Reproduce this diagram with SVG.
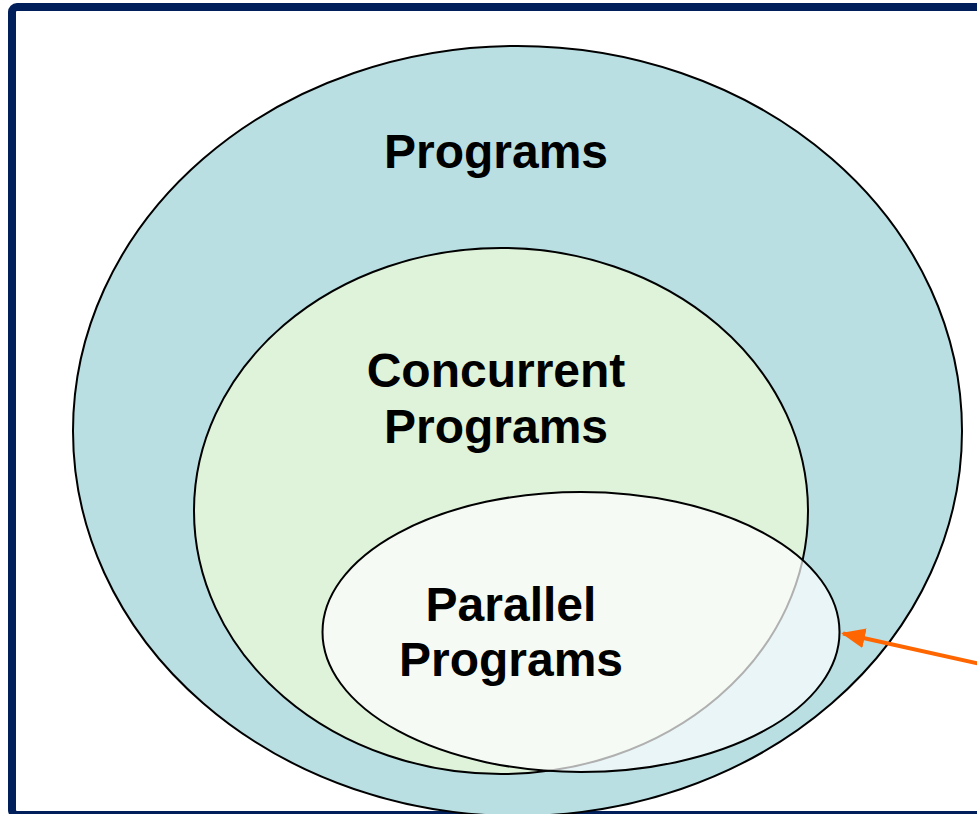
<svg xmlns="http://www.w3.org/2000/svg" width="977" height="814" viewBox="0 0 977 814">
<defs>
<style>
.lbl{font-family:"Liberation Sans",Arial,sans-serif;font-weight:bold;font-size:48px;fill:#000;text-anchor:middle}
.set{stroke:#000;stroke-width:2}
</style>
<marker id="ah" markerWidth="6" markerHeight="5" refX="5.5" refY="2.5" orient="auto" markerUnits="strokeWidth">
<path d="M0,0 L6,2.5 L0,5 Z" fill="#ff6600"/>
</marker>
</defs>
<rect x="0" y="0" width="977" height="814" fill="#ffffff"/>
<rect x="12" y="7" width="990" height="808" rx="5" fill="none" stroke="#001f5b" stroke-width="8"/>
<g id="programs">
<ellipse class="set" cx="517.5" cy="431" rx="444.5" ry="385" fill="#b9dfe3"/>
<text class="lbl" x="496" y="168">Programs</text>
</g>
<g id="concurrent">
<ellipse class="set" cx="501" cy="511" rx="307" ry="263" fill="#dff2da"/>
<text class="lbl" x="496" y="387">Concurrent</text>
<text class="lbl" x="496" y="443">Programs</text>
</g>
<g id="parallel">
<ellipse class="set" cx="581" cy="632" rx="258.5" ry="140" fill="#ffffff" fill-opacity="0.69"/>
<text class="lbl" x="511" y="621">Parallel</text>
<text class="lbl" x="511" y="676">Programs</text>
</g>
<g id="connectors">
<line x1="985" y1="665" x2="843" y2="633.5" stroke="#ff6600" stroke-width="4" marker-end="url(#ah)"/>
</g>
</svg>
